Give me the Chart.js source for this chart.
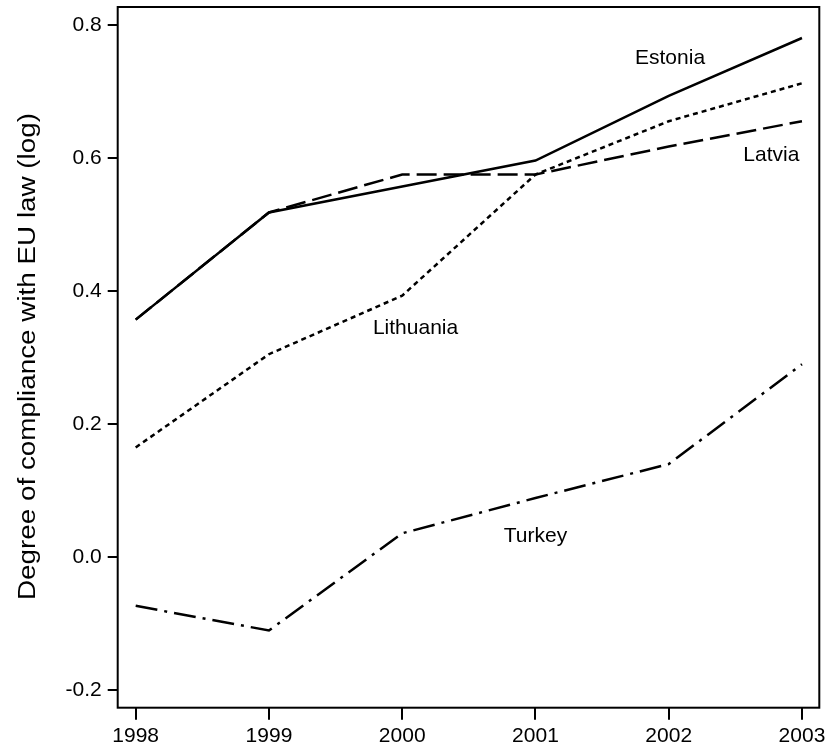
<!DOCTYPE html>
<html>
<head>
<meta charset="utf-8">
<script src="https://cdn.jsdelivr.net/npm/chart.js@4.4.1/dist/chart.umd.min.js"></script>
<style>
  body { margin: 0; background: #fff; }
  #wrap { width: 832px; height: 753px; position: relative; }
</style>
</head>
<body>
<div id="wrap"><canvas id="euChart"></canvas></div>
<script>
// data
const years = [1998, 1999, 2000, 2001, 2002, 2003];
const estonia = [0.357, 0.518, 0.557, 0.596, 0.693, 0.780];
const latvia = [0.357, 0.518, 0.575, 0.575, 0.617, 0.655];
const lithuania = [0.165, 0.305, 0.393, 0.575, 0.655, 0.712];
const turkey = [-0.073, -0.110, 0.036, 0.089, 0.140, 0.290];
const yTicks = [-0.2, 0.0, 0.2, 0.4, 0.6, 0.8];
const yTitle = "Degree of compliance with EU law (log)";

// where each country name sits, in data units
const countryLabels = [
  { text: "Estonia", x: 2002.01, y: 0.749 },
  { text: "Latvia", x: 2002.77, y: 0.604 },
  { text: "Lithuania", x: 2000.1, y: 0.344 },
  { text: "Turkey", x: 2001.0, y: 0.032 },
];

const FONT = "'Liberation Sans', Arial, Helvetica, sans-serif";

function pts(vals) {
  return years.map((yr, i) => ({ x: yr, y: vals[i] }));
}

function lineSet(label, vals, dash) {
  return {
    label: label,
    data: pts(vals),
    borderColor: "#000",
    borderWidth: 2.5,
    borderDash: dash,
    borderCapStyle: "butt",
    pointRadius: 0,
    tension: 0,
    fill: false,
  };
}

// scales should not push the plot area around for their end labels
function noPad(s) {
  s.paddingTop = 0;
  s.paddingBottom = 0;
  s.paddingLeft = 0;
  s.paddingRight = 0;
}

// frame around the plot area + country names + rotated y title
const extras = {
  id: "extras",
  afterDraw(chart) {
    const { ctx, chartArea: a, scales } = chart;
    ctx.save();
    ctx.strokeStyle = "#000";
    ctx.lineWidth = 2;
    ctx.strokeRect(a.left, a.top, a.right - a.left, a.bottom - a.top);

    ctx.fillStyle = "#000";
    ctx.font = "21px " + FONT;
    ctx.textAlign = "center";
    ctx.textBaseline = "middle";
    countryLabels.forEach((l) => {
      ctx.fillText(l.text, scales.x.getPixelForValue(l.x), scales.y.getPixelForValue(l.y));
    });

    // axis title, stretched along its length like the original
    ctx.font = "23px " + FONT;
    const w = ctx.measureText(yTitle).width;
    ctx.translate(34.5, 356.5);
    ctx.rotate(-Math.PI / 2);
    ctx.scale(487 / w, 1);
    ctx.textBaseline = "alphabetic";
    ctx.fillText(yTitle, 0, 0);
    ctx.restore();
  },
};

new Chart(document.getElementById("euChart").getContext("2d"), {
  type: "line",
  data: {
    datasets: [
      lineSet("Estonia", estonia, []),
      lineSet("Latvia", latvia, [20, 7]),
      lineSet("Lithuania", lithuania, [5, 4]),
      lineSet("Turkey", turkey, [22, 7, 3, 7]),
    ],
  },
  options: {
    responsive: true,
    maintainAspectRatio: false,
    animation: false,
    layout: { padding: { top: 7, right: 12.7, left: 0, bottom: 0 } },
    plugins: {
      legend: { display: false },
      tooltip: { enabled: false },
    },
    scales: {
      x: {
        type: "linear",
        min: 1997.865,
        max: 2003.13,
        afterBuildTicks: (s) => { s.ticks = years.map((v) => ({ value: v })); },
        afterFit: (s) => { s.height = 45.3; noPad(s); },
        border: { display: false },
        grid: { drawOnChartArea: false, tickLength: 12, color: "#000", lineWidth: 2 },
        ticks: {
          color: "#000",
          padding: 4,
          maxRotation: 0,
          font: { family: FONT, size: 21 },
          callback: (v) => String(v),
        },
      },
      y: {
        min: -0.226,
        max: 0.8266,
        afterBuildTicks: (s) => { s.ticks = yTicks.map((v) => ({ value: v })); },
        afterFit: (s) => { s.width = 117.7; noPad(s); },
        border: { display: false },
        grid: { drawOnChartArea: false, tickLength: 10, color: "#000", lineWidth: 2 },
        ticks: {
          color: "#000",
          padding: 6,
          font: { family: FONT, size: 21 },
          callback: (v) => v.toFixed(1),
        },
      },
    },
  },
  plugins: [extras],
});
</script>
</body>
</html>
